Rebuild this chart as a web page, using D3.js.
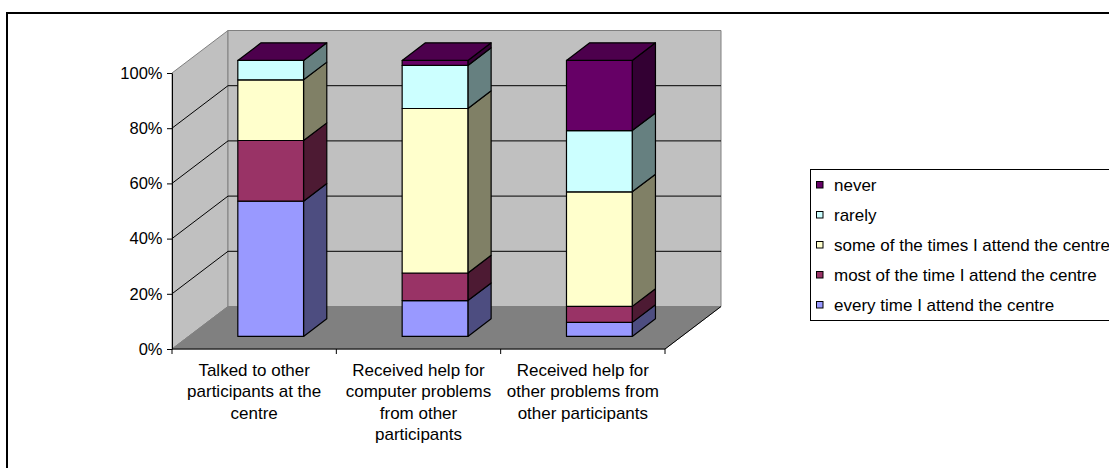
<!DOCTYPE html>
<html>
<head>
<meta charset="utf-8">
<script src="https://cdn.jsdelivr.net/npm/d3@7"></script>
<style>
  html, body { margin: 0; padding: 0; background: #fff; }
  svg { display: block; }
  text { font-family: "Liberation Sans", Arial, sans-serif; font-size: 16.5px; fill: #000; }
  .cat-label text, .legend text { font-size: 17px; }
</style>
</head>
<body>
<svg id="chart" width="1109" height="468"></svg>
<script>
// Categories (x axis)
const categories = [
  "Talked to other participants at the centre",
  "Received help for computer problems from other participants",
  "Received help for other problems from other participants"
];

// Series names, bottom of stack first
const seriesNames = [
  "every time I attend the centre",
  "most of the time I attend the centre",
  "some of the times I attend the centre",
  "rarely",
  "never"
];

// Percent of respondents per category
const everyTime    = [49.0, 13.0, 5.1];
const mostTimes    = [22.0, 10.0, 5.8];
const someTimes    = [22.0, 59.6, 41.5];
const rarely       = [7.0, 15.6, 22.2];
const never        = [0.0, 1.8, 25.4];

const seriesColors = ["#9999FF", "#993366", "#FFFFCC", "#CCFFFF", "#660066"];

// Value axis ticks
const tickValues = [0, 0.2, 0.4, 0.6, 0.8, 1];

const seriesValues = [everyTime, mostTimes, someTimes, rarely, never];
const rows = categories.map((c, i) => {
  const r = { category: c };
  seriesNames.forEach((s, k) => { r[s] = seriesValues[k][i]; });
  return r;
});

const svg = d3.select("#chart");

// Front plane scales plus an oblique depth offset for the 3-D look
const x = d3.scaleBand().domain(categories).range([172, 665]).padding(0);
const y = d3.scaleLinear().domain([0, 1]).range([349, 73]);
const DX = 56, DY = -42.5;
const proj = (px, v, t) => [px + DX * t, y(v) + DY * t];
const poly = pts => pts.map(p => p.join(",")).join(" ");

const shade = (c, f) => {
  const col = d3.rgb(c);
  return d3.rgb(col.r * f, col.g * f, col.b * f).formatHex();
};

// Outer chart frame
svg.append("rect")
  .attr("x", 7).attr("y", 13).attr("width", 1200).attr("height", 500)
  .attr("fill", "#fff").attr("stroke", "#000").attr("stroke-width", 2);

const x0 = x.range()[0], x1 = x.range()[1];

// Walls and floor
svg.append("polygon")
  .attr("points", poly([proj(x0, 0, 0), proj(x0, 0, 1), proj(x0, 1, 1), proj(x0, 1, 0)]))
  .attr("fill", "#C0C0C0").attr("stroke", "#808080");
svg.append("polygon")
  .attr("points", poly([proj(x0, 0, 1), proj(x1, 0, 1), proj(x1, 1, 1), proj(x0, 1, 1)]))
  .attr("fill", "#C0C0C0").attr("stroke", "#808080");
svg.append("polygon")
  .attr("points", poly([proj(x0, 0, 0), proj(x1, 0, 0), proj(x1, 0, 1), proj(x0, 0, 1)]))
  .attr("fill", "#808080").attr("stroke", "#808080");
svg.append("line")
  .attr("x1", proj(x1, 0, 0)[0]).attr("y1", proj(x1, 0, 0)[1])
  .attr("x2", proj(x1, 0, 1)[0]).attr("y2", proj(x1, 0, 1)[1])
  .attr("stroke", "#000");

// Gridlines on the back and side walls
const grid = svg.append("g").attr("stroke", "#000").attr("stroke-width", 1);
tickValues.filter(v => v > 0 && v < 1).forEach(v => {
  const a = proj(x0, v, 0), b = proj(x0, v, 1), c = proj(x1, v, 1);
  grid.append("polyline").attr("fill", "none").attr("points", poly([a, b, c]));
});

// Value axis
const yAxis = d3.axisLeft(y)
  .tickValues(tickValues)
  .tickFormat(d3.format(".0%"))
  .tickSize(5)
  .tickSizeOuter(0)
  .tickPadding(4.5);
const yg = svg.append("g").attr("transform", `translate(${x0},0)`).call(yAxis);
yg.select(".domain").attr("stroke", "#000");
yg.selectAll(".tick line").attr("stroke", "#000");
yg.attr("font-size", null).attr("font-family", null);

// Category axis line and boundary ticks
svg.append("line")
  .attr("x1", x0).attr("x2", x1).attr("y1", y(0)).attr("y2", y(0))
  .attr("stroke", "#000");
const bounds = categories.map(c => x(c)).concat([x1]);
svg.append("g").selectAll("line").data(bounds).join("line")
  .attr("x1", d => d).attr("x2", d => d)
  .attr("y1", y(0)).attr("y2", y(0) + 5)
  .attr("stroke", "#000");

// Stacked 3-D columns
const stack = d3.stack().keys(seriesNames).offset(d3.stackOffsetExpand);
const layers = stack(rows);
const T0 = 0.295, T1 = 0.71;
const bw = x.bandwidth() * 0.4;
const bars = svg.append("g").attr("stroke", "#000").attr("stroke-width", 1.2).attr("stroke-linejoin", "round");

categories.forEach((cat, i) => {
  const xl = x(cat) + x.bandwidth() * 0.3;
  const xr = xl + bw;
  const g = bars.append("g");
  layers.forEach((layer, k) => {
    const v0 = layer[i][0], v1 = layer[i][1];
    if (v1 - v0 <= 0) return;
    const col = seriesColors[k];
    g.append("polygon")
      .attr("points", poly([proj(xr, v0, T0), proj(xr, v0, T1), proj(xr, v1, T1), proj(xr, v1, T0)]))
      .attr("fill", shade(col, 0.5));
    g.append("polygon")
      .attr("points", poly([proj(xl, v0, T0), proj(xr, v0, T0), proj(xr, v1, T0), proj(xl, v1, T0)]))
      .attr("fill", col);
  });
  const topCol = seriesColors[seriesColors.length - 1];
  g.append("polygon")
    .attr("points", poly([proj(xl, 1, T0), proj(xr, 1, T0), proj(xr, 1, T1), proj(xl, 1, T1)]))
    .attr("fill", shade(topCol, 0.75));
});

// Category labels, wrapped to the category width
const labelG = svg.append("g").attr("class", "cat-label").attr("text-anchor", "middle");
categories.forEach(cat => {
  const cx = x(cat) + x.bandwidth() / 2;
  const t = labelG.append("text").attr("x", cx).attr("y", 375.5);
  const words = cat.split(" ");
  let line = [];
  let lineNo = 0;
  let ts = t.append("tspan").attr("x", cx).attr("y", 375.5);
  words.forEach(w => {
    line.push(w);
    ts.text(line.join(" "));
    if (ts.node().getComputedTextLength() > 160 && line.length > 1) {
      line.pop();
      ts.text(line.join(" "));
      line = [w];
      lineNo += 1;
      ts = t.append("tspan").attr("x", cx).attr("y", 375.5 + lineNo * 21.6).text(w);
    }
  });
});

// Legend
const legend = svg.append("g").attr("class", "legend");
legend.append("rect")
  .attr("x", 810.5).attr("y", 169.5).attr("width", 400).attr("height", 151)
  .attr("fill", "#fff").attr("stroke", "#000");
const legendItems = seriesNames.map((s, k) => ({ name: s, color: seriesColors[k] })).reverse();
const li = legend.selectAll("g.item").data(legendItems).join("g")
  .attr("class", "item")
  .attr("transform", (d, i) => `translate(0,${185 + i * 30})`);
li.append("rect")
  .attr("x", 816.5).attr("y", -3.5).attr("width", 6.5).attr("height", 6.5)
  .attr("fill", d => d.color).attr("stroke", "#000").attr("stroke-width", 1);
li.append("text")
  .attr("x", 834).attr("y", 5.5)
  .text(d => d.name);
</script>
</body>
</html>
